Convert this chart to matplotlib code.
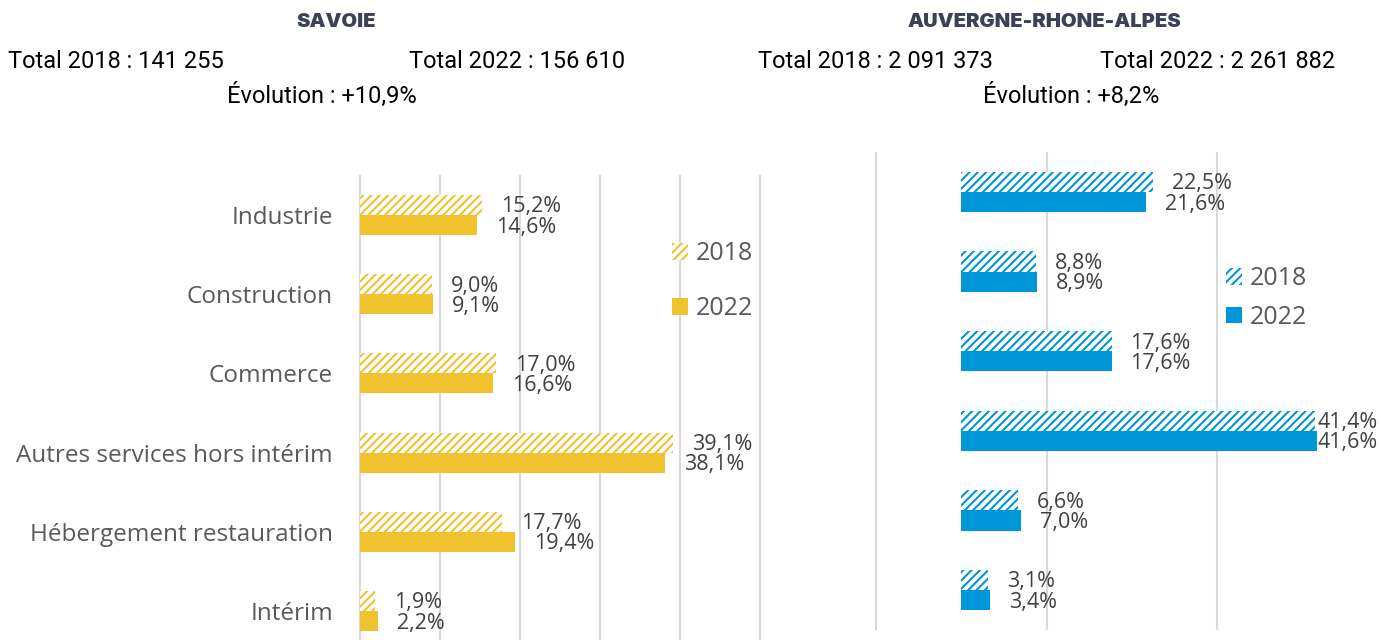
import matplotlib
matplotlib.use("Agg")
import matplotlib.pyplot as plt
from matplotlib.patches import Patch

# data
categories = ["Industrie", "Construction", "Commerce", "Autres services hors intérim",
              "Hébergement restauration", "Intérim"]
savoie_2018 = [15.2, 9.0, 17.0, 39.1, 17.7, 1.9]
savoie_2022 = [14.6, 9.1, 16.6, 38.1, 19.4, 2.2]
ara_2018 = [22.5, 8.8, 17.6, 41.4, 6.6, 3.1]
ara_2022 = [21.6, 8.9, 17.6, 41.6, 7.0, 3.4]
years = ["2018", "2022"]

savoie_head = ["SAVOIE", "Total 2018 : 141 255", "Total 2022 : 156 610", "Évolution : +10,9%"]
ara_head = ["AUVERGNE-RHONE-ALPES", "Total 2018 : 2 091 373", "Total 2022 : 2 261 882", "Évolution : +8,2%"]

YELLOW = "#F0C22E"
BLUE = "#0096DA"
GRID = "#D9D9D9"
LABEL = "#404040"
CAT = "#595959"
TITLE = "#3B4257"

plt.rcParams["hatch.linewidth"] = 1.5
plt.rcParams["font.family"] = ["Open Sans", "DejaVu Sans"]

W, H = 1381, 640
fig = plt.figure(figsize=(W / 100, H / 100), dpi=100)


def px_axes(left, top, right, bottom):
    return fig.add_axes([left / W, (H - bottom) / H, (right - left) / W, (bottom - top) / H])


def panel(ax, v18, v22, color, xlim, ticks):
    y = list(range(len(v18)))
    bh = 0.253
    ax.barh([i - bh / 2 for i in y], v18, height=bh, facecolor="white",
            edgecolor=color, hatch="////", linewidth=0, zorder=3)
    ax.barh([i + bh / 2 for i in y], v22, height=bh, color=color, linewidth=0, zorder=3)
    ax.set_xlim(*xlim)
    ax.set_ylim(len(v18) - 0.5, -0.5)
    ax.set_xticks(ticks)
    ax.grid(axis="x", color=GRID, linewidth=1.5, zorder=0)
    ax.tick_params(length=0, labelbottom=False)
    for s in ax.spines.values():
        s.set_visible(False)
    # data labels, pushed back inside when they would run off the right edge
    x_right = ax.get_xlim()[1]
    px_per_unit = ax.bbox.width / (xlim[1] - xlim[0])
    for vals, dy in ((v18, -bh / 2), (v22, bh / 2)):
        for i, v in enumerate(vals):
            txt = f"{v:.1f}%".replace(".", ",")
            if v + 84 / px_per_unit > x_right:
                ax.annotate(txt, xy=(x_right, i + dy), xytext=(-2, -2), textcoords="offset pixels",
                            ha="right", va="center", fontsize=15.5, color=LABEL,
                            annotation_clip=False)
            else:
                ax.annotate(txt, xy=(v, i + dy), xytext=(19, -2), textcoords="offset pixels",
                            ha="left", va="center", fontsize=15.5, color=LABEL,
                            annotation_clip=False)
    return y


# left panel (Savoie)
axl = px_axes(358, 175.4, 762, 650.6)
yl = panel(axl, savoie_2018, savoie_2022, YELLOW, (-0.25, 50.25), [0, 10, 20, 30, 40, 50])
axl.set_yticks(yl)
axl.set_yticklabels(categories, fontsize=17.5, color=CAT)
axl.tick_params(axis="y", pad=18)

# right panel (Auvergne-Rhone-Alpes)
axr = px_axes(874, 152.2, 1380, 629.8)
panel(axr, ara_2018, ara_2022, BLUE, (-10.2, 49.02), [-10, 10, 30])
axr.set_yticks([])

# legends
for color, anchor, spacing in ((YELLOW, (672, 241), 1.2), (BLUE, (1226, 266), 0.55)):
    handles = [Patch(facecolor="white", edgecolor=color, hatch="////", linewidth=0),
               Patch(facecolor=color, linewidth=0)]
    fig.legend(handles, years, loc="upper left", bbox_to_anchor=(anchor[0] / W, 1 - anchor[1] / H),
               frameon=False, fontsize=18, labelcolor=CAT, handlelength=0.65, handleheight=0.65,
               handletextpad=0.3, labelspacing=spacing, borderpad=0, borderaxespad=0)

# headers
head_font = ["Roboto", "DejaVu Sans"]
title_font = ["Inter", "DejaVu Sans"]
for head, cx, x18, x22, cev in ((savoie_head, 336, 8, 625, 322),
                                (ara_head, 1044, 758, 1335, 1071)):
    fig.text(cx / W, 1 - 22 / H, head[0], ha="center", va="center", fontsize=14.5,
             fontweight="black", color=TITLE, family=title_font)
    fig.text(x18 / W, 1 - 62 / H, head[1], ha="left", va="center", fontsize=17,
             color="black", family=head_font)
    fig.text(x22 / W, 1 - 62 / H, head[2], ha="right", va="center", fontsize=17,
             color="black", family=head_font)
    fig.text(cev / W, 1 - 95 / H, head[3], ha="center", va="center", fontsize=17,
             color="black", family=head_font)

fig.savefig("out.png", dpi=100)
plt.close()
